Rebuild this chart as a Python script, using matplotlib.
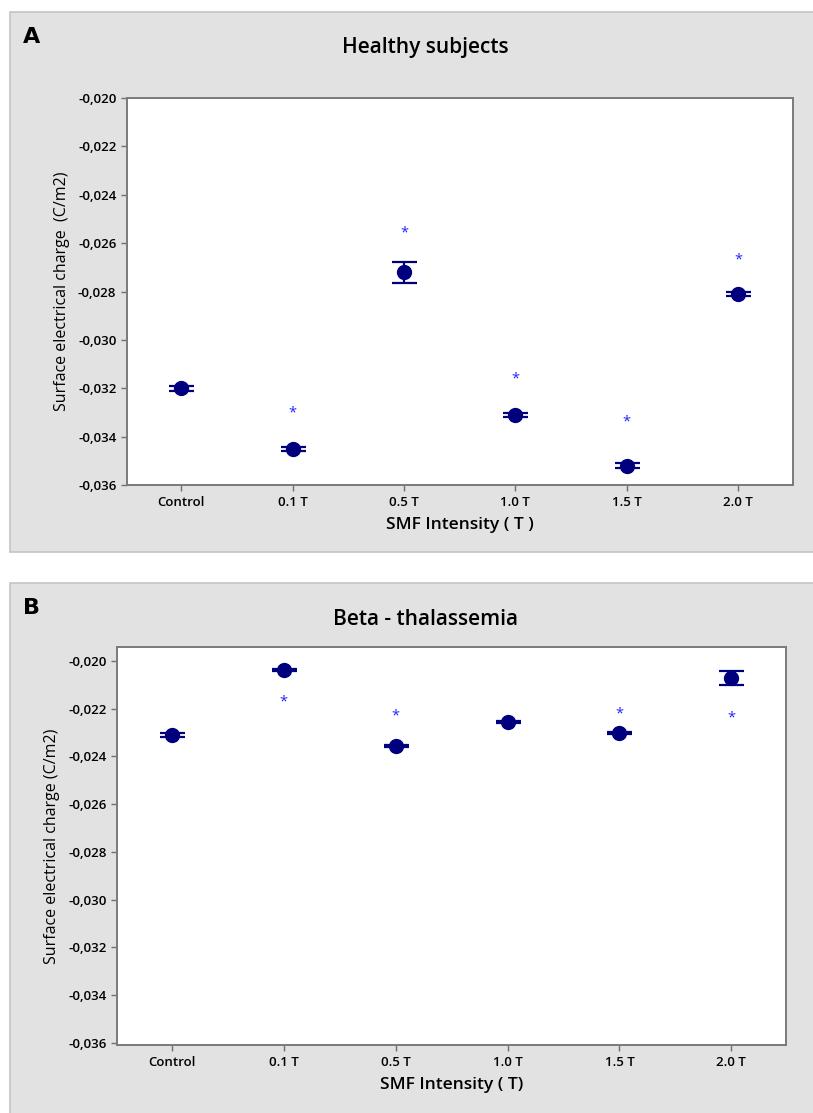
import numpy as np
import matplotlib
matplotlib.use("Agg")
import matplotlib.pyplot as plt
from matplotlib.patches import Rectangle
from matplotlib.ticker import FuncFormatter

plt.rcParams['font.family'] = ['Open Sans', 'DejaVu Sans']

categories = ['Control', '0.1 T', '0.5 T', '1.0 T', '1.5 T', '2.0 T']

# Healthy subjects
healthy_mean = [-0.0320, -0.0345, -0.0272, -0.0331, -0.0352, -0.0281]
healthy_err = [0.0001, 0.0001, 0.00044, 0.0001, 0.0001, 0.0001]
healthy_star = [None, -0.0330, -0.02557, -0.0316, -0.0334, -0.02669]

# Beta-thalassemia
thal_mean = [-0.0231, -0.02038, -0.02357, -0.02256, -0.02303, -0.02071]
thal_err = [0.0001, 0.00005, 0.00005, 0.00005, 0.00005, 0.0003]
thal_star = [None, -0.02172, -0.02231, None, -0.02223, -0.02240]

yticks = [-0.020, -0.022, -0.024, -0.026, -0.028, -0.030, -0.032, -0.034, -0.036]

navy = '#00007f'
panel_bg = '#e2e2e2'


def comma_fmt(v, pos):
    return f"{v:.3f}".replace('.', ',')


def draw_panel(fig, rect, axpos, letter, title, ylabel, xlabel, means, errs, stars, ylim, title_y):
    fig.patches.append(Rectangle((rect[0], rect[1]), rect[2], rect[3], transform=fig.transFigure,
                                 facecolor=panel_bg, edgecolor='#c4c4c4', lw=1.2, zorder=-5))
    fig.text(rect[0] + 0.016, rect[1] + rect[3] - 0.022, letter, fontsize=16, fontweight='bold',
             family='DejaVu Sans', ha='left', va='center')
    fig.text(0.523, title_y, title, fontsize=15, fontweight='semibold', ha='center', va='center')

    ax = fig.add_axes(axpos)
    x = np.arange(len(categories))
    ax.errorbar(x, means, yerr=errs, fmt='o', color=navy, ms=10, capsize=9,
                elinewidth=1.6, capthick=1.6, zorder=3)
    for i, s in enumerate(stars):
        if s is not None:
            ax.text(i, s, '*', color='#2222ff', fontsize=10.5, ha='center', va='center')
    ax.set_xlim(-0.49, 5.49)
    ax.set_ylim(*ylim)
    ax.set_yticks(yticks)
    ax.yaxis.set_major_formatter(FuncFormatter(comma_fmt))
    ax.set_xticks(x)
    ax.set_xticklabels(categories)
    ax.tick_params(axis='both', labelsize=9.5, color='#707070', length=4, width=1)
    for lab in ax.get_xticklabels() + ax.get_yticklabels():
        lab.set_fontweight('semibold')
    for sp in ax.spines.values():
        sp.set_color('#7a7a7a')
        sp.set_linewidth(1.4)
    ax.set_ylabel(ylabel, fontsize=11.5, fontweight='medium', labelpad=6)
    ax.set_xlabel(xlabel, fontsize=12.5, fontweight='semibold', labelpad=6)
    return ax


fig = plt.figure(figsize=(8.13, 11.13), dpi=100)

draw_panel(fig, (0.012, 0.504, 0.99, 0.485),
           [0.156, 0.564, 0.819, 0.348], 'A', 'Healthy subjects',
           'Surface electrical charge  (C/m2)', 'SMF Intensity ( T )',
           healthy_mean, healthy_err, healthy_star, (-0.036, -0.020), 0.957)

draw_panel(fig, (0.012, -0.01, 0.99, 0.486),
           [0.144, 0.061, 0.823, 0.358], 'B', 'Beta - thalassemia',
           'Surface electrical charge (C/m2)', 'SMF Intensity ( T)',
           thal_mean, thal_err, thal_star, (-0.0361, -0.0194), 0.443)

fig.savefig('out.png', dpi=100)
